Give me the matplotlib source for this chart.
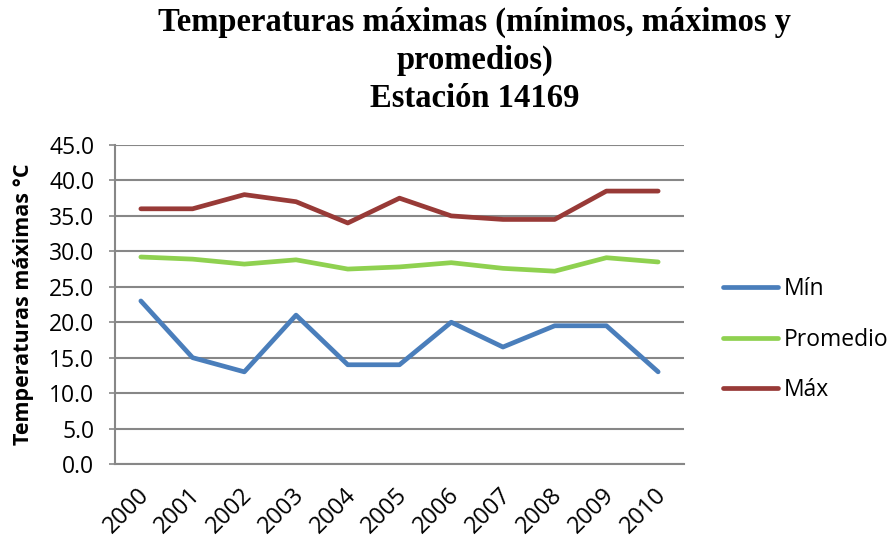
import matplotlib
matplotlib.use('Agg')
import matplotlib.pyplot as plt
import matplotlib.transforms as mtransforms
import numpy as np

YEARS    = ['2000', '2001', '2002', '2003', '2004', '2005',
            '2006', '2007', '2008', '2009', '2010']
T_MIN    = [23.0, 15.0, 13.0, 21.0, 14.0, 14.0, 20.0, 16.5, 19.5, 19.5, 13.0]
T_PROM   = [29.2, 28.9, 28.2, 28.8, 27.5, 27.8, 28.4, 27.6, 27.2, 29.1, 28.5]
T_MAX    = [36.0, 36.0, 38.0, 37.0, 34.0, 37.5, 35.0, 34.5, 34.5, 38.5, 38.5]
Y_TICKS  = [0, 5, 10, 15, 20, 25, 30, 35, 40, 45]

SANS  = ['Open Sans', 'DejaVu Sans']
SERIF = ['Liberation Serif', 'DejaVu Serif']
GRID  = '#878787'
FS    = 16.5

fig = plt.figure(figsize=(8.91, 5.39), dpi=100, facecolor='white')
ax = fig.add_axes([115 / 891, 75 / 539, 569 / 891, 319 / 539])

x = np.arange(len(YEARS))
style = dict(lw=3.4, solid_capstyle='round', solid_joinstyle='round')
ax.plot(x, T_MIN,  color='#4a7ebb', label='Mín', **style)
ax.plot(x, T_PROM, color='#8fd150', label='Promedio', **style)
ax.plot(x, T_MAX,  color='#983a37', label='Máx', **style)

ax.set_xlim(-0.5, len(YEARS) - 0.5)
ax.set_ylim(0, 45)
ax.set_yticks(Y_TICKS)
ax.set_yticklabels([f'{v:.1f}' for v in Y_TICKS], fontsize=FS, family=SANS)
ax.set_xticks(x)
ax.set_xticklabels(YEARS, rotation=45, ha='right', rotation_mode='anchor',
                   fontsize=17, family=SANS)
ax.tick_params(axis='x', length=0, pad=14)
ax.tick_params(axis='y', length=4, color=GRID, width=1.2, pad=11)

# nudge the rotated year labels a little to the left
shift = mtransforms.ScaledTranslation(-4 / 100, 0, fig.dpi_scale_trans)
for lbl in ax.get_xticklabels():
    lbl.set_transform(lbl.get_transform() + shift)

ax.grid(axis='y', color=GRID, lw=1.5)
ax.set_axisbelow(True)
for s in ['top', 'right']:
    ax.spines[s].set_visible(False)
for s in ['left', 'bottom']:
    ax.spines[s].set_color(GRID)
    ax.spines[s].set_linewidth(1.5)

ax.set_ylabel('Temperaturas máximas °C', fontsize=15.5, fontweight='bold',
              family=SANS, labelpad=11)

fig.text(0.533, 0.9866, 'Temperaturas máximas (mínimos, máximos y\npromedios)\nEstación 14169',
         ha='center', va='top', fontsize=23.5, fontweight='bold', family=SERIF,
         linespacing=1.27)

leg = ax.legend(loc='center left', bbox_to_anchor=(1.0686, 0.39), frameon=False,
                prop={'family': SANS, 'size': FS}, handlelength=2.4,
                handletextpad=0.25, labelspacing=1.15,
                borderaxespad=0, borderpad=0)

fig.savefig('out.png', dpi=100)
